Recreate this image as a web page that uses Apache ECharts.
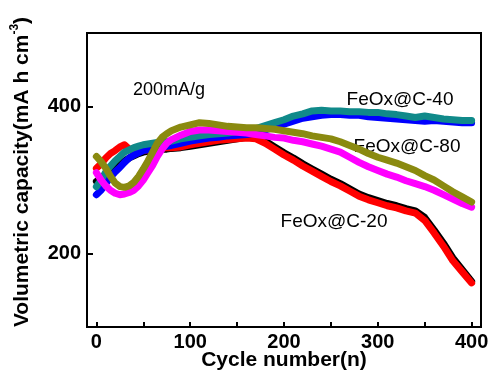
<!DOCTYPE html>
<html><head><meta charset="utf-8">
<script src="https://cdn.jsdelivr.net/npm/echarts@6/dist/echarts.min.js"></script>
<style>html,body{margin:0;padding:0;background:#fff}#c{width:488px;height:372px}</style>
</head><body><div id="c"></div>
<script>
var cycles = [0,5,10,15,20,25,30,35,40,45,50,55,60,65,70,75,80,90,100,110,120,130,140,150,160,170,180,190,200,210,220,230,240,250,260,270,280,290,300,310,320,330,340,350,360,370,380,390,400];
var c20a = [298,302,308,313,318,322,326,330,333,336,338,339,340,341,342,342,343,344,346,348,350,352,354,356,358,358,353,345,337,330,322,315,308,301,295,288,281,276,272,268,265,261,258,249,232,214,194,178,162];
var c20b = [316,322,330,336,340,345,348,342,338,339,340,341,342,342,343,344,344,345,348,350,352,354,355,356,357,356,350,342,334,327,319,312,305,298,292,285,278,273,269,265,262,258,255,245,228,210,190,175,160];
var c40a = [280,286,295,304,311,317,324,330,334,337,340,341,343,344,345,346,347,350,353,355,357,358,360,361,362,364,368,372,376,380,384,386,388,389,389,388,388,386,385,384,383,382,381,380,381,380,379,378,378];
var c40b = [291,300,311,319,326,332,338,341,344,346,348,349,350,351,351,352,353,356,358,360,362,363,364,366,367,370,374,378,382,387,390,394,395,394,394,393,393,392,392,390,389,387,385,387,385,383,382,381,381];
var c80a = [310,300,292,286,282,280,281,283,286,292,300,310,320,332,342,350,355,361,366,368,368,367,366,365,364,362,360,358,357,354,352,349,346,342,338,331,324,318,313,308,304,299,295,291,286,280,274,268,263];
var c80b = [332,325,316,305,296,291,290,292,297,305,315,326,338,350,358,363,367,372,375,378,377,375,373,372,371,371,370,369,367,365,363,360,358,356,352,347,342,336,331,327,323,318,313,306,300,292,284,277,270];
var xTicks = [0,100,200,300,400];
var xMinor = [0,50,100,150,200,250,300,350,400];
var yTicks = [200,400];
var labels = ['200mA/g','FeOx@C-40','FeOx@C-80','FeOx@C-20'];
var xName = 'Cycle number(n)';

function pairs(v){ return cycles.map(function(c,i){ return [c, v[i]]; }); }
function ser(v, color){
  return {type:'line', data:pairs(v), showSymbol:false, symbol:'none',
    lineStyle:{color:color, width:7, join:'round', cap:'round'}, itemStyle:{color:color}, silent:true, animation:false};
}
var chart = echarts.init(document.getElementById('c'));
var ff = 'Liberation Sans, Arial, sans-serif';
chart.setOption({
  animation:false,
  grid:{left:87, right:7, top:33, bottom:45, outerBoundsMode:'none', containLabel:false, show:true, borderColor:'#000', borderWidth:2, backgroundColor:'#fff'},
  xAxis:{type:'value', min:-10, max:410,
    axisLine:{show:true, onZero:false, lineStyle:{color:'#000', width:2}},
    axisTick:{show:true, inside:true, length:5, lineStyle:{color:'#000', width:2}, customValues:xMinor},
    axisLabel:{customValues:xTicks, fontSize:20, margin:5, fontFamily:ff, fontWeight:'bold', color:'#000'},
    splitLine:{show:false}
  },
  yAxis:{type:'value', min:100, max:500,
    axisLine:{show:true, onZero:false, lineStyle:{color:'#000', width:2}},
    axisTick:{show:true, inside:true, length:6, lineStyle:{color:'#000', width:2}, customValues:yTicks},
    axisLabel:{customValues:yTicks, fontSize:20, margin:6, fontFamily:ff, fontWeight:'bold', color:'#000'},
    splitLine:{show:false}
  },
  graphic:[
    {type:'text', x:22, y:172, rotation:Math.PI/2, style:{
      text:'{a|Volumetric capacity(mA h cm}{s|-3}{a|)}', align:'center', verticalAlign:'middle',
      rich:{a:{fontSize:21, fontWeight:'bold', fontFamily:ff, fill:'#000'},
            s:{fontSize:12, fontWeight:'bold', fontFamily:ff, fill:'#000', verticalAlign:'top', lineHeight:26}}
    }},
    {type:'text', x:284, y:360, style:{text:xName, fontSize:21, fontWeight:'bold', fontFamily:ff, fill:'#000', align:'center', verticalAlign:'middle'}},
    {type:'text', x:169, y:90, style:{text:labels[0], fontSize:18, fontFamily:ff, fill:'#000', align:'center', verticalAlign:'middle'}},
    {type:'text', x:400, y:100, style:{text:labels[1], fontSize:19, fontFamily:ff, fill:'#000', align:'center', verticalAlign:'middle'}},
    {type:'text', x:407, y:147, style:{text:labels[2], fontSize:19, fontFamily:ff, fill:'#000', align:'center', verticalAlign:'middle'}},
    {type:'text', x:334, y:222, style:{text:labels[3], fontSize:19, fontFamily:ff, fill:'#000', align:'center', verticalAlign:'middle'}}
  ],
  series:[
    ser(c20a,'#000000'),
    ser(c20b,'#ff0000'),
    ser(c40a,'#0000ff'),
    ser(c40b,'#108a8a'),
    ser(c80a,'#ff00ff'),
    ser(c80b,'#8a8a10')
  ]
});
</script></body></html>
